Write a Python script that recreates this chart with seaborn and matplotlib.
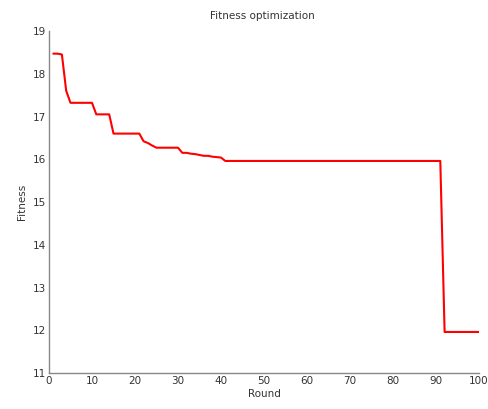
import matplotlib
matplotlib.use("Agg")
import matplotlib.pyplot as plt
import seaborn as sns
import pandas as pd

rounds = list(range(1, 101))
fitness = [
    18.47, 18.47, 18.45, 17.60, 17.32, 17.32, 17.32, 17.32, 17.32, 17.32,
    17.05, 17.05, 17.05, 17.05, 16.60, 16.60, 16.60, 16.60, 16.60, 16.60,
    16.60, 16.42, 16.38, 16.32, 16.27, 16.27, 16.27, 16.27, 16.27, 16.27,
    16.15, 16.15, 16.13, 16.12, 16.10, 16.08, 16.08, 16.06, 16.05, 16.04,
    15.96, 15.96, 15.96, 15.96, 15.96, 15.96, 15.96, 15.96, 15.96, 15.96,
    15.96, 15.96, 15.96, 15.96, 15.96, 15.96, 15.96, 15.96, 15.96, 15.96,
    15.96, 15.96, 15.96, 15.96, 15.96, 15.96, 15.96, 15.96, 15.96, 15.96,
    15.96, 15.96, 15.96, 15.96, 15.96, 15.96, 15.96, 15.96, 15.96, 15.96,
    15.96, 15.96, 15.96, 15.96, 15.96, 15.96, 15.96, 15.96, 15.96, 15.96,
    15.96, 11.96, 11.96, 11.96, 11.96, 11.96, 11.96, 11.96, 11.96, 11.96,
]
xticks = [0, 10, 20, 30, 40, 50, 60, 70, 80, 90, 100]
yticks = [11, 12, 13, 14, 15, 16, 17, 18, 19]

df = pd.DataFrame({"Round": rounds, "Fitness": fitness})

sns.set_style("white")
plt.rcParams["font.family"] = ["DejaVu Sans"]

fig = plt.figure(figsize=(4.88, 4.09), dpi=100)
ax = fig.add_axes([49 / 488, 1 - 373 / 409, 430 / 488, 342 / 409])
sns.lineplot(data=df, x="Round", y="Fitness", color="#ff0000", linewidth=1.5, ax=ax)

ax.set_xlim(0, 100)
ax.set_ylim(11, 19)
ax.set_xticks(xticks)
ax.set_yticks(yticks)
ax.set_xticklabels([str(v) for v in xticks])
ax.set_yticklabels([str(v) for v in yticks])
ax.tick_params(direction="in", length=3, width=0.8, colors="#555555",
               labelsize=7.5, labelcolor="#333333", pad=2)
for s in ["top", "right"]:
    ax.spines[s].set_visible(False)
for s in ["left", "bottom"]:
    ax.spines[s].set_color("#888888")
    ax.spines[s].set_linewidth(1.0)
ax.set_xlabel("Round", fontsize=7.5, color="#333333", labelpad=2)
ax.set_ylabel("Fitness", fontsize=7.5, color="#333333", labelpad=4)
fig.text(262 / 488, 1 - 16 / 409, "Fitness optimization", ha="center", va="center",
         fontsize=7.5, color="#333333")

fig.savefig("out.png", dpi=100)
